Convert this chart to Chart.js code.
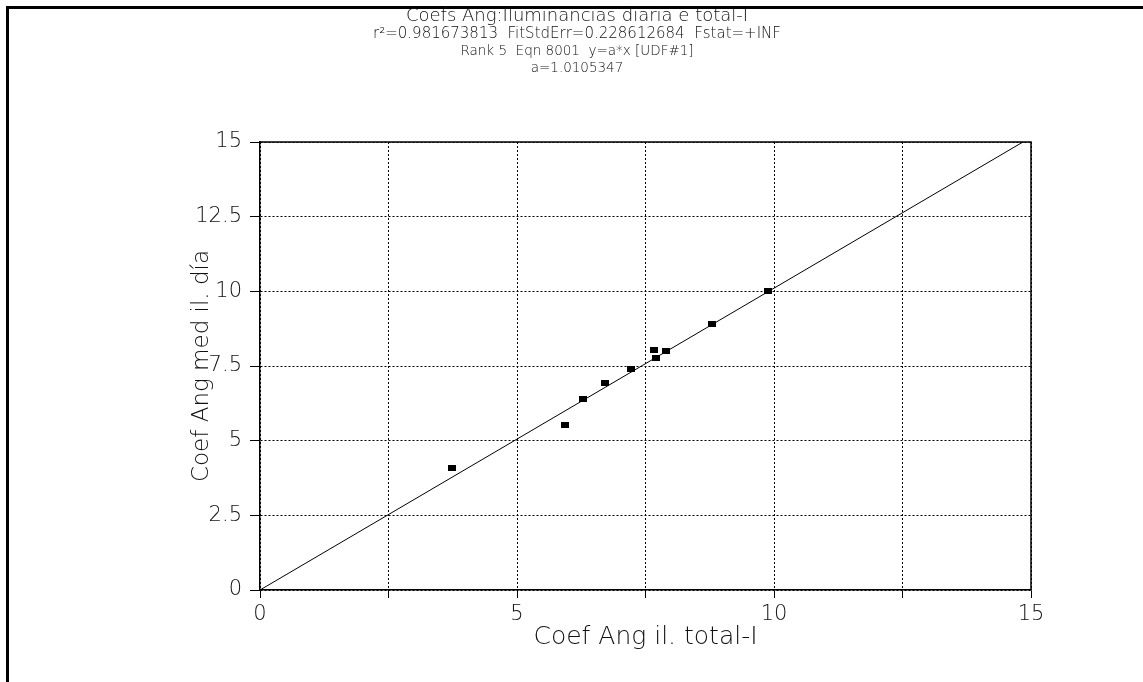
<!DOCTYPE html>
<html>
<head>
<meta charset="utf-8">
<script src="https://cdn.jsdelivr.net/npm/chart.js@4/dist/chart.umd.min.js"></script>
<style>
  html, body { margin: 0; padding: 0; background: #fff; overflow: hidden; }
  #frame { position: absolute; left: 6px; top: 6px; width: 1400px; height: 900px;
           border-left: 3px solid #000; border-top: 3px solid #000; }
  #chart { position: absolute; left: 0; top: 0; }
</style>
</head>
<body>
<div id="frame"></div>
<canvas id="chart" width="1143" height="682"></canvas>
<script>
// Dados
const coefTotal = [3.74, 5.93, 6.29, 6.72, 7.22, 7.67, 7.70, 7.89, 8.79, 9.89];
const coefDia   = [4.10, 5.52, 6.39, 6.94, 7.39, 8.03, 7.78, 8.00, 8.91, 10.02];

// Reta ajustada y = a*x (extremos)
const fitX = [0, 15];
const fitY = [0, 15.158];

const titleLines = [
  'Coefs Ang:Iluminancias diaria e total-I',
  'r\u00B2=0.981673813  FitStdErr=0.228612684  Fstat=+INF',
  'Rank 5  Eqn 8001  y=a*x [UDF#1]',
  'a=1.0105347'
];
const titleSizes = [18, 15, 13.5, 13.5];

const ticksStep = 2.5;
const txtFont = '"DejaVu Sans", Verdana, sans-serif';

// marcador retangular 8x6
const mark = document.createElement('canvas');
mark.width = 8; mark.height = 6;
const mctx = mark.getContext('2d');
mctx.fillStyle = '#000';
mctx.fillRect(0, 0, 8, 6);

const pontos = coefTotal.map((x, i) => ({ x: x, y: coefDia[i] }));
const reta = fitX.map((x, i) => ({ x: x, y: fitY[i] }));

// títulos e moldura da área do gráfico
const extras = {
  id: 'extras',
  afterDraw(chart) {
    const c = chart.ctx, a = chart.chartArea;
    c.save();
    c.strokeStyle = '#000';
    c.lineWidth = 1.5;
    c.beginPath();
    c.moveTo(a.left, a.top);
    c.lineTo(a.right, a.top);
    c.lineTo(a.right, a.bottom);
    c.stroke();
    c.fillStyle = '#111';
    c.textAlign = 'center';
    c.textBaseline = 'middle';
    const ys = [16, 34, 51, 68];
    titleLines.forEach((t, i) => {
      c.font = '200 ' + titleSizes[i] + 'px ' + txtFont;
      c.fillText(t, 577, ys[i]);
    });
    c.restore();
  }
};

new Chart(document.getElementById('chart'), {
  type: 'scatter',
  data: {
    datasets: [
      {
        data: reta,
        showLine: true,
        borderColor: '#000',
        borderWidth: 1,
        pointRadius: 0,
        order: 2
      },
      {
        data: pontos,
        pointStyle: mark,
        backgroundColor: '#000',
        order: 1
      }
    ]
  },
  options: {
    responsive: false,
    animation: false,
    layout: { padding: { top: 142, right: 112, bottom: 0, left: 0 } },
    plugins: {
      legend: { display: false },
      tooltip: { enabled: false }
    },
    scales: {
      x: {
        min: 0, max: 15,
        afterFit: s => { s.height = 92; },
        ticks: {
          stepSize: ticksStep,
          padding: 4,
          color: '#111',
          font: { family: txtFont, size: 21, weight: 200 },
          callback: v => (v % 5 === 0 ? v : '')
        },
        grid: {
          color: '#000',
          tickBorderDash: [],
          tickLength: 8,
          tickColor: '#000'
        },
        border: { color: '#000', width: 1.5, dash: [2, 2] },
        title: {
          display: true,
          text: 'Coef Ang il. total-I',
          color: '#111',
          font: { family: txtFont, size: 25, weight: 200 },
          padding: { top: 0, bottom: 30 }
        }
      },
      y: {
        min: 0, max: 15,
        afterFit: s => { s.width = 260; },
        ticks: {
          stepSize: ticksStep,
          padding: 8,
          color: '#111',
          font: { family: txtFont, size: 21, weight: 200 }
        },
        grid: {
          color: '#000',
          tickBorderDash: [],
          tickLength: 10,
          tickColor: '#000'
        },
        border: { color: '#000', width: 1.5, dash: [2, 2] },
        title: {
          display: true,
          text: 'Coef Ang med il. día',
          color: '#111',
          font: { family: txtFont, size: 23, weight: 200 },
          padding: { top: 188, bottom: 0 }
        }
      }
    }
  },
  plugins: [extras]
});
</script>
</body>
</html>
